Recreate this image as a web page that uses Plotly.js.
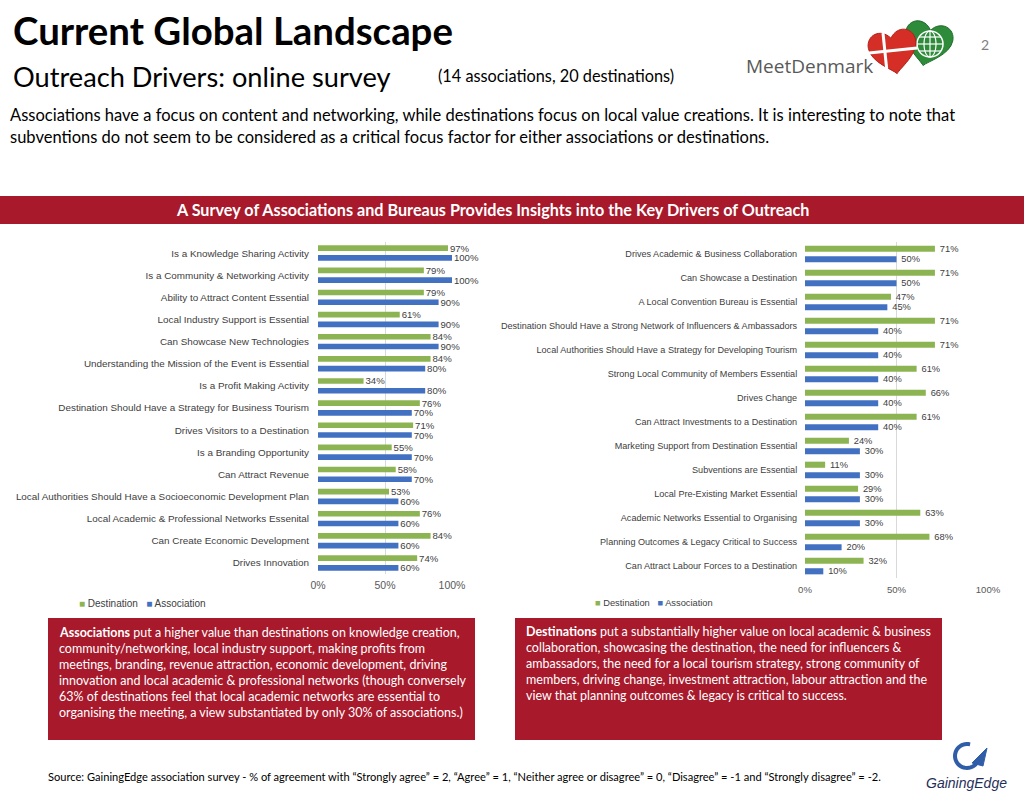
<!DOCTYPE html>
<html>
<head>
<meta charset="utf-8">
<script src="https://cdn.plot.ly/plotly-3.0.1.min.js"></script>
<style>
  html, body { margin: 0; padding: 0; background: #ffffff; overflow: hidden; }
  #chart { width: 1024px; height: 798px; }
</style>
</head>
<body>
<div id="chart"></div>
<script>
// ---------- DATA ----------
const leftCategories = [
  "Is a Knowledge Sharing Activity",
  "Is a Community & Networking Activity",
  "Ability to Attract Content Essential",
  "Local Industry Support is Essential",
  "Can Showcase New Technologies",
  "Understanding the Mission of the Event is Essential",
  "Is a Profit Making Activity",
  "Destination Should Have a Strategy for Business Tourism",
  "Drives Visitors to a Destination",
  "Is a Branding Opportunity",
  "Can Attract Revenue",
  "Local Authorities Should Have a Socioeconomic Development Plan",
  "Local Academic & Professional Networks Essenital",
  "Can Create Economic Development",
  "Drives Innovation"
];
const leftDestination = [97, 79, 79, 61, 84, 84, 34, 76, 71, 55, 58, 53, 76, 84, 74];
const leftAssociation = [100, 100, 90, 90, 90, 80, 80, 70, 70, 70, 70, 60, 60, 60, 60];

const rightCategories = [
  "Drives Academic & Business Collaboration",
  "Can Showcase a Destination",
  "A Local Convention Bureau is Essential",
  "Destination Should Have a Strong Network of Influencers & Ambassadors",
  "Local Authorities Should Have a Strategy for Developing Tourism",
  "Strong Local Community of Members Essential",
  "Drives Change",
  "Can Attract Investments to a Destination",
  "Marketing Support from Destination Essential",
  "Subventions are Essential",
  "Local Pre-Existing Market Essential",
  "Academic Networks Essential to Organising",
  "Planning Outcomes & Legacy Critical to Success",
  "Can Attract Labour Forces to a Destination"
];
const rightDestination = [71, 71, 47, 71, 71, 61, 66, 61, 24, 11, 29, 63, 68, 32];
const rightAssociation = [50, 50, 45, 40, 40, 40, 40, 40, 30, 30, 30, 30, 20, 10];

const tickValues = [0, 50, 100];
const tickLabels = ["0%", "50%", "100%"];
const seriesNames = ["Destination", "Association"];

// ---------- STYLE ----------
const W = 1024, H = 798;
const GREEN = "#8DB452", BLUE = "#4371C1", RED = "#A8192B";
const ARIAL = "Liberation Sans, Arial, sans-serif";
const CAL = "Lato, Carlito, sans-serif";
const px = x => x / W;
const py = y => 1 - y / H;

function barTrace(cats, vals, name, color, xa, ya, fs) {
  return {
    type: "bar", orientation: "h", name: name,
    y: cats, x: vals, xaxis: xa, yaxis: ya,
    marker: { color: color },
    text: vals.map(v => "\u2009" + v + "%"),
    textposition: "outside", cliponaxis: false, constraintext: "none",
    textfont: { family: ARIAL, size: fs, color: "#404040" },
    hoverinfo: "skip", showlegend: false
  };
}

const data = [
  barTrace(leftCategories, leftDestination, seriesNames[0], GREEN, "x", "y", 9.6),
  barTrace(leftCategories, leftAssociation, seriesNames[1], BLUE, "x", "y", 9.6),
  barTrace(rightCategories, rightDestination, seriesNames[0], GREEN, "x2", "y2", 9.3),
  barTrace(rightCategories, rightAssociation, seriesNames[1], BLUE, "x2", "y2", 9.3)
];

function xAxis(d0, d1, anchor, fs, standoff) {
  return {
    domain: [px(d0), px(d1)], range: [0, 100], anchor: anchor,
    tickvals: tickValues, ticktext: tickLabels,
    showgrid: true, gridcolor: "#D9D9D9", gridwidth: 1,
    zeroline: false, showline: false, ticks: "", ticklabelstandoff: standoff,
    tickfont: { family: ARIAL, size: fs, color: "#595959" }, fixedrange: true
  };
}
function yAxis(top, bottom, n, anchor, fs, tl) {
  return {
    domain: [py(bottom), py(top)], type: "category",
    range: [n - 0.5, -0.5], anchor: anchor,
    showgrid: false, zeroline: false, showline: false,
    ticks: "outside", ticklen: tl, tickcolor: "rgba(0,0,0,0)",
    tickfont: { family: ARIAL, size: fs, color: "#404040" }, fixedrange: true
  };
}

// heart path in paper coordinates
function heart(cx, cy, s, rot) {
  const a = rot * Math.PI / 180;
  const tr = (x, y) => {
    const X = cx + s * (x * Math.cos(a) - y * Math.sin(a));
    const Y = cy + s * (x * Math.sin(a) + y * Math.cos(a));
    return px(X).toFixed(5) + "," + py(Y).toFixed(5);
  };
  return "M" + tr(0, 1) +
    " C" + tr(-0.15, 0.8) + " " + tr(-1, 0.35) + " " + tr(-1, -0.25) +
    " C" + tr(-1, -0.8) + " " + tr(-0.35, -1.0) + " " + tr(0, -0.5) +
    " C" + tr(0.35, -1.0) + " " + tr(1, -0.8) + " " + tr(1, -0.25) +
    " C" + tr(1, 0.35) + " " + tr(0.15, 0.8) + " " + tr(0, 1) + " Z";
}
function polyPath(pts) {
  return pts.map((p, i) => (i ? "L" : "M") + px(p[0]).toFixed(5) + "," + py(p[1]).toFixed(5)).join(" ");
}
function arcPts(cx, cy, r, a0, a1, n) {
  const out = [];
  for (let i = 0; i <= n; i++) {
    const t = (a0 + (a1 - a0) * i / n) * Math.PI / 180;
    out.push([cx + r * Math.cos(t), cy + r * Math.sin(t)]);
  }
  return out;
}
function ellipsePath(cx, cy, rx, ry) {
  const pts = [];
  for (let i = 0; i <= 40; i++) {
    const t = i / 40 * 2 * Math.PI;
    pts.push([cx + rx * Math.cos(t), cy + ry * Math.sin(t)]);
  }
  return polyPath(pts) + " Z";
}

const shapes = [
  // banner
  { type: "rect", xref: "paper", yref: "paper", x0: 0, x1: 1, y0: py(224), y1: py(196),
    fillcolor: RED, line: { width: 0 }, layer: "below" },
  // text boxes
  { type: "rect", xref: "paper", yref: "paper", x0: px(48), x1: px(475), y0: py(740), y1: py(618),
    fillcolor: RED, line: { width: 0 }, layer: "below" },
  { type: "rect", xref: "paper", yref: "paper", x0: px(515), x1: px(942), y0: py(740), y1: py(618),
    fillcolor: RED, line: { width: 0 }, layer: "below" },
  // MeetDenmark logo: green heart with globe
  { type: "path", xref: "paper", yref: "paper", path: heart(928, 42, 24, 12),
    fillcolor: "#2E8B3A", line: { color: "#1F6B2A", width: 1 } },
  { type: "path", xref: "paper", yref: "paper", path: ellipsePath(930, 44, 13, 13),
    fillcolor: "rgba(0,0,0,0)", line: { color: "#ffffff", width: 1.5 } },
  { type: "path", xref: "paper", yref: "paper", path: ellipsePath(930, 44, 6, 13),
    fillcolor: "rgba(0,0,0,0)", line: { color: "#ffffff", width: 1.2 } },
  { type: "path", xref: "paper", yref: "paper", path: polyPath([[917, 44], [943, 44]]),
    line: { color: "#ffffff", width: 1.2 } },
  { type: "path", xref: "paper", yref: "paper", path: polyPath([[919, 37], [941, 37]]),
    line: { color: "#ffffff", width: 1.2 } },
  { type: "path", xref: "paper", yref: "paper", path: polyPath([[919, 51], [941, 51]]),
    line: { color: "#ffffff", width: 1.2 } },
  { type: "path", xref: "paper", yref: "paper", path: polyPath([[930, 31], [930, 57]]),
    line: { color: "#ffffff", width: 1.2 } },
  // red heart with Danish cross
  { type: "path", xref: "paper", yref: "paper", path: heart(893, 50, 24, -10),
    fillcolor: "#D42E26", line: { color: "#B3201A", width: 1 } },
  { type: "path", xref: "paper", yref: "paper", path: polyPath([[869, 53], [917, 48]]),
    line: { color: "#ffffff", width: 3 } },
  { type: "path", xref: "paper", yref: "paper", path: polyPath([[883, 33], [887, 72]]),
    line: { color: "#ffffff", width: 3 } },
  // GainingEdge swoosh (G shape)
  { type: "path", xref: "paper", yref: "paper", path: polyPath(arcPts(967, 756, 12, 285, 30, 30)),
    fillcolor: "rgba(0,0,0,0)", line: { color: "#2F5DA8", width: 4 } },
  { type: "path", xref: "paper", yref: "paper",
    path: polyPath([[972, 763], [987, 748], [983, 766]]) + " Z",
    fillcolor: "#2F5DA8", line: { color: "#2F5DA8", width: 1 } }
];

function ann(text, x, y, o) {
  return Object.assign({
    text: text, xref: "paper", yref: "paper", x: px(x), y: py(y),
    xanchor: "left", yanchor: "middle", showarrow: false, align: "left",
    font: { family: CAL, size: 12, color: "#000000" }
  }, o || {});
}

const leftBox = [
  "<b>Associations</b> put a higher value than destinations on knowledge creation,",
  "community/networking, local industry support, making profits from",
  "meetings, branding, revenue attraction, economic development, driving",
  "innovation and local academic & professional networks (though conversely",
  "63% of destinations feel that local academic networks are essential to",
  "organising the meeting, a view substantiated by only 30% of associations.)"
];
const rightBox = [
  "<b>Destinations</b> put a substantially higher value on local academic & business",
  "collaboration, showcasing the destination, the need for influencers &",
  "ambassadors, the need for a local tourism strategy, strong community of",
  "members, driving change, investment attraction, labour attraction and the",
  "view that planning outcomes & legacy is critical to success."
];

const legendText = '<span style="color:' + GREEN + '">■</span> ' + seriesNames[0] +
  '   <span style="color:' + BLUE + '">■</span> ' + seriesNames[1];

const annotations = [
  ann("<b>Current Global Landscape</b>", 11, 30, { font: { family: CAL, size: 38.4, color: "#000" } }),
  ann("Outreach Drivers: online survey", 11, 76, { font: { family: CAL, size: 27.2, color: "#000" } }),
  ann("(14 associations, 20 destinations)", 436, 75, { font: { family: CAL, size: 16.3, color: "#000" } }),
  ann("Associations have a focus on content and networking, while destinations focus on local value creations. It is interesting to note that", 8, 115, { font: { family: CAL, size: 16.5, color: "#000" } }),
  ann("subventions do not seem to be considered as a critical focus factor for either associations or destinations.", 8, 137, { font: { family: CAL, size: 16.5, color: "#000" } }),
  ann("2", 985, 44, { xanchor: "center", font: { family: CAL, size: 14, color: "#7F7F7F" } }),
  ann("MeetDenmark", 744, 66, { font: { family: "Open Sans, sans-serif", size: 19, color: "#595959" } }),
  ann("<b>A Survey of Associations and Bureaus Provides Insights into the Key Drivers of Outreach</b>", 492, 210,
      { xanchor: "center", font: { family: CAL, size: 16.2, color: "#ffffff" } }),
  ann(legendText, 77, 603, { font: { family: ARIAL, size: 10, color: "#404040" } }),
  ann(legendText, 593, 603, { font: { family: ARIAL, size: 9.3, color: "#404040" } }),
  ann("Source: GainingEdge association survey - % of agreement with “Strongly agree” = 2, “Agree” = 1, “Neither agree or disagree” = 0, “Disagree” = -1 and “Strongly disagree” = -2.",
      46, 776, { font: { family: CAL, size: 11.1, color: "#000" } }),
  ann("<i>GainingEdge</i>", 924, 783, { font: { family: "Liberation Sans, Arial, sans-serif", size: 14, color: "#1F2F5A" } })
];
leftBox.forEach((t, i) => annotations.push(ann(t, 57, 632 + 16 * i, { font: { family: CAL, size: 12.5, color: "#ffffff" } })));
rightBox.forEach((t, i) => annotations.push(ann(t, 524, 631 + 16 * i, { font: { family: CAL, size: 12.5, color: "#ffffff" } })));

const layout = {
  width: W, height: H,
  margin: { l: 0, r: 0, t: 0, b: 0, pad: 0 },
  paper_bgcolor: "#ffffff", plot_bgcolor: "rgba(0,0,0,0)",
  barmode: "group", bargap: 0.12, bargroupgap: 0.42,
  showlegend: false,
  xaxis: xAxis(318, 452, "y", 10.5, 3),
  yaxis: yAxis(242, 574, leftCategories.length, "x", 9.9, 6),
  xaxis2: xAxis(805, 988, "y2", 9.6, 4),
  yaxis2: yAxis(242, 578, rightCategories.length, "x2", 9.1, 5),
  shapes: shapes,
  annotations: annotations
};

Plotly.newPlot("chart", data, layout, { staticPlot: true, displayModeBar: false });
</script>
</body>
</html>
